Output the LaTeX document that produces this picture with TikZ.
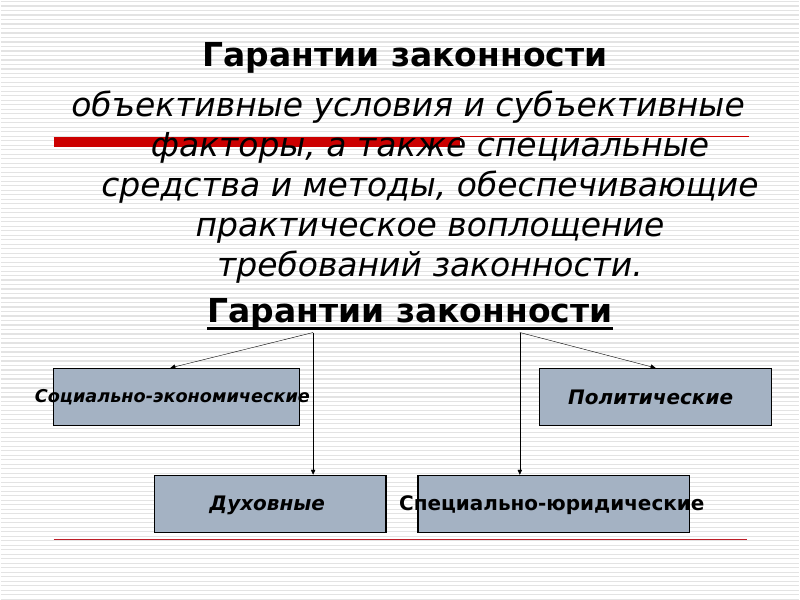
\documentclass[tikz,border=0pt]{standalone}
\usepackage{fontspec}
\setmainfont{DejaVu Sans}
\usetikzlibrary{arrows.meta,positioning}
\definecolor{boxfill}{RGB}{164,178,195}
\definecolor{barred}{RGB}{204,0,0}
\definecolor{linered}{RGB}{190,30,40}

\begin{document}
\begin{tikzpicture}[x=1pt,y=-1pt,
    heading/.style={font=\fontsize{33}{39}\selectfont\bfseries, inner sep=0pt, anchor=base},
    definition/.style={font=\fontsize{33}{40}\selectfont\itshape, align=center, inner sep=0pt},
    kind/.style={draw, line width=1.1pt, fill=boxfill, minimum height=57pt, inner sep=0pt},
    kindlabel/.style={font=\fontsize{20}{22}\selectfont\bfseries\itshape, inner sep=0pt},
    arrow/.style={-{Triangle[length=5pt,width=4.5pt]}, thin}
]

% Fond raye
\fill[white] (0,0) rectangle (800,600);
\foreach \yy in {1.5,6,...,600}
    \draw[gray!22, line width=1.2pt] (0,\yy) -- (800,\yy);

% Traits rouges
\draw[barred, line width=10pt] (53,142) -- (460,142);
\draw[barred, line width=0.8pt] (460,137) -- (750,137);
\draw[linered, line width=0.8pt] (53,540) -- (748,540);

% Titre et definition
\node[heading] (title) at (405,67) {Гарантии законности};
\node[definition, anchor=north] (defin) at (430,91) {объективные условия и субъективные\hspace*{44pt}\\факторы, а также специальные\\средства и методы, обеспечивающие\\практическое воплощение\\требований законности.};

% Second titre souligne
\node[heading] (title2) at (410,323) {Гарантии законности};
\draw[line width=2.5pt] ([yshift=-6pt]title2.base west) -- ([yshift=-6pt]title2.base east);

% Cases
\node[kind, minimum width=246pt] (social) at (176,397.5) {};
\node[kind, minimum width=232pt] (polit) at (656,397.5) {};
\node[kind, minimum width=232pt] (dukh) at (270,504.5) {};
\node[kind, minimum width=272pt] (spec) at (554,504.5) {};

\node[kindlabel, font=\fontsize{17.7}{20}\selectfont\bfseries\itshape] (sociallbl) at (172,398) {Социально-экономические};
\node[kindlabel] (politlbl) at (651,398) {Политические};
\node[kindlabel] (dukhlbl) at (267,506) {Духовные};
\node[kindlabel, font=\fontsize{20}{22}\selectfont\bfseries] (speclbl) at (552,506) {Специально-юридические};

% Fleches
\coordinate (forkL) at (313,333);
\coordinate (forkR) at (520,333);
\draw[arrow] (forkL) -- ([xshift=-6pt]social.north);
\draw[arrow] (forkL) -- (forkL |- dukh.north);
\draw[arrow] (forkR) -- (polit.north);
\draw[arrow] (forkR) -- (forkR |- spec.north);

\end{tikzpicture}
\end{document}
